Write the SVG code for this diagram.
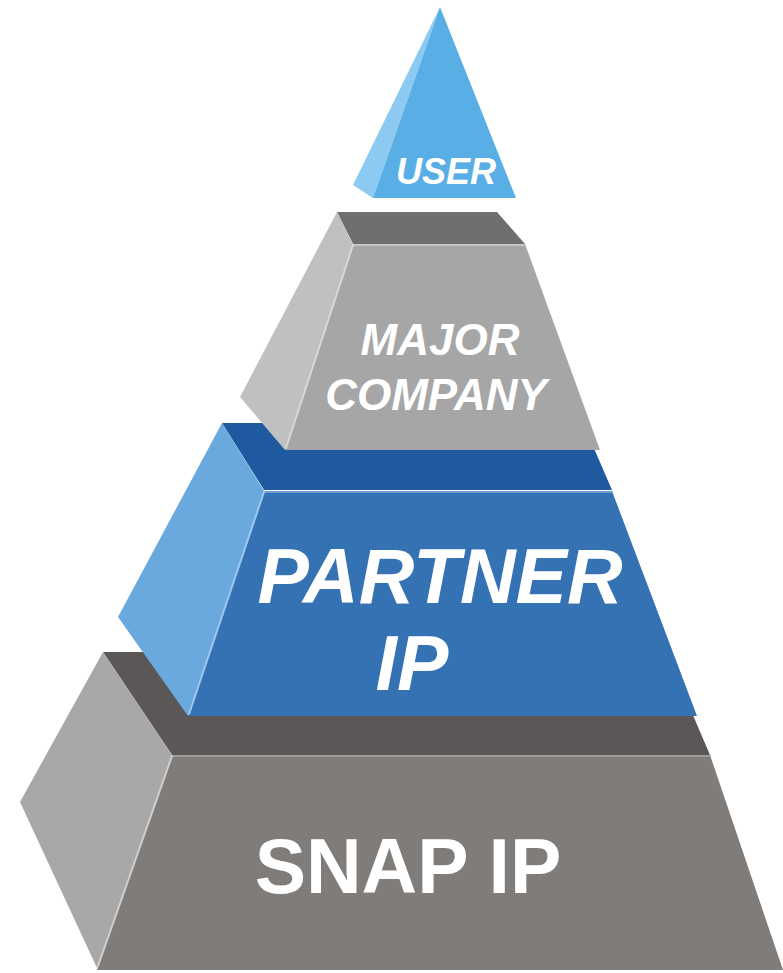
<svg xmlns="http://www.w3.org/2000/svg" width="783" height="973" viewBox="0 0 783 973">
<style>
.lbl{font-family:"Liberation Sans",Arial,sans-serif;font-weight:bold;fill:#ffffff;text-anchor:middle}
.it{font-style:italic}
.hl{fill:none;stroke-width:2;stroke-linecap:round}
</style>
<rect width="783" height="973" fill="#ffffff"/>
<g id="snap-ip">
<polygon points="103,652 666,652 710,755 172,755" fill="#5b5756"/>
<polygon points="103,652 172,755 97,968 20,802" fill="#a9a8a8"/>
<polygon points="172,755 710,755 783,970 97,970" fill="#807c7a"/>
<polyline class="hl" points="172,756 710,756" stroke="#a09c9a"/>
<line class="hl" x1="172" y1="756" x2="98" y2="966" stroke="#cfcfcf"/>
<text class="lbl" x="408" y="893" font-size="77">SNAP IP</text>
</g>
<g id="partner-ip">
<polygon points="222,423 583,423 612,490 264,490" fill="#1f5aa0"/>
<polygon points="222,423 264,491 188,716 118,617" fill="#69a9de"/>
<polygon points="264,491 612,491 697,716 188,716" fill="#3572b4"/>
<polyline class="hl" points="264,492 612,492" stroke="#6d9ccf"/>
<line class="hl" x1="264" y1="492" x2="189" y2="714" stroke="#9cc8ee"/>
<text class="lbl it" x="440" y="603" font-size="77">PARTNER</text>
<text class="lbl it" x="412" y="690" font-size="77">IP</text>
</g>
<g id="major-company">
<polygon points="337,212 497,212 525,244 353,244" fill="#6f6f6f"/>
<polygon points="337,212 353,245 285,450 240,397" fill="#c0c0c0"/>
<polygon points="353,244 525,244 600,450 285,450" fill="#a6a6a6"/>
<polyline class="hl" points="353,245 525,245" stroke="#c4c4c4"/>
<line class="hl" x1="353" y1="245" x2="286" y2="448" stroke="#d8d8d8"/>
<text class="lbl it" x="440" y="355" font-size="44">MAJOR</text>
<text class="lbl it" x="436" y="410" font-size="44">COMPANY</text>
</g>
<g id="user">
<polygon points="440,7 373,198 353,185" fill="#8dcaf1"/>
<polygon points="440,7 516,198 373,198" fill="#5aaee6"/>
<text class="lbl it" x="446" y="184" font-size="36">USER</text>
</g>
<g id="connectors"></g>
</svg>
